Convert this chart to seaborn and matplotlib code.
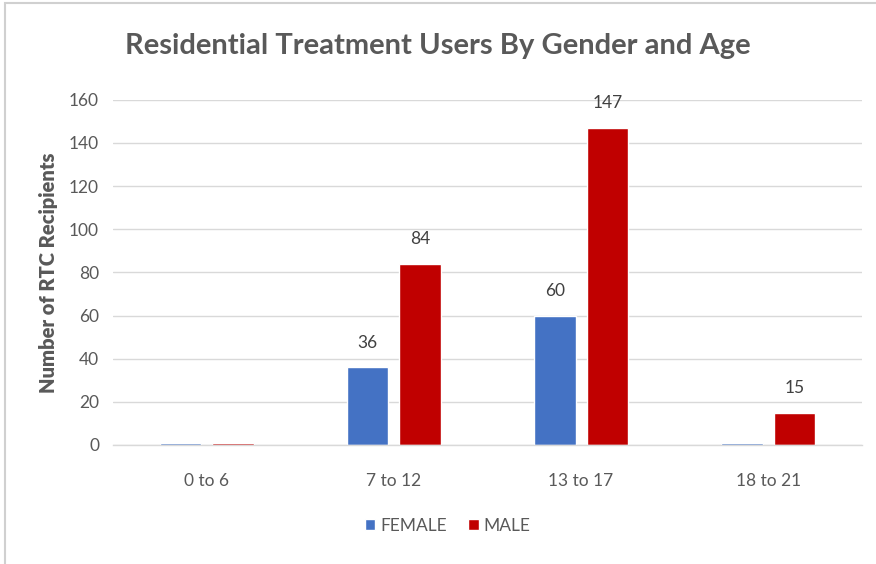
import pandas as pd
import matplotlib.pyplot as plt
import seaborn as sns
from matplotlib.patches import Rectangle

# Values
age_groups = ['0 to 6', '7 to 12', '13 to 17', '18 to 21']
female = [1, 36, 60, 1]
male = [1, 84, 147, 15]
genders = ['FEMALE', 'MALE']
colors = {'FEMALE': '#4472C4', 'MALE': '#C00000'}

df = pd.DataFrame({
    'Age': age_groups * 2,
    'Gender': ['FEMALE'] * len(age_groups) + ['MALE'] * len(age_groups),
    'Count': female + male,
})

sns.set_theme(style='white')
plt.rcParams['font.family'] = ['Lato', 'DejaVu Sans']
text_gray = '#595959'

fig = plt.figure(figsize=(8.76, 5.64), dpi=100)
ax = fig.add_axes([0.129, 0.211, 0.855, 0.612])

sns.barplot(data=df, x='Age', y='Count', hue='Gender', hue_order=genders,
            palette=colors, saturation=1, width=0.56, gap=0.21, ax=ax, legend=True)

# data labels, only for the visible counts
for cont in ax.containers:
    labels = [f'{int(v)}' if v > 1 else '' for v in cont.datavalues]
    ax.bar_label(cont, labels=labels, padding=12, fontsize=12.5, color='#404040')

ax.set_ylim(0, 160)
ax.set_yticks(range(0, 161, 20))
ax.yaxis.grid(True, color='#D9D9D9', linewidth=1)
ax.set_axisbelow(True)
for s in ['top', 'right', 'left']:
    ax.spines[s].set_visible(False)
ax.spines['bottom'].set_color('#D9D9D9')
ax.spines['bottom'].set_linewidth(1)
ax.tick_params(axis='both', length=0, labelsize=12.5, labelcolor=text_gray, pad=10)
ax.tick_params(axis='x', pad=20)
ax.set_xlabel('')
ax.set_ylabel('Number of RTC Recipients', fontsize=14.5, fontweight='heavy',
              color=text_gray, labelpad=8)

fig.text(0.5, 0.918, 'Residential Treatment Users By Gender and Age',
         ha='center', va='center', fontsize=21, fontweight='bold', color=text_gray)

ax.legend(loc='upper center', bbox_to_anchor=(0.447, -0.165), ncol=2, frameon=False,
          fontsize=12.5, labelcolor=text_gray, handlelength=0.6, handleheight=0.6,
          handletextpad=0.3, columnspacing=1.2)

# chart-area border (left and top edges visible in the screenshot)
fig.patches.append(Rectangle((0.006, -0.01), 1.1, 1.005, transform=fig.transFigure,
                             fill=False, edgecolor='#D0D0D0', linewidth=1.5))

fig.savefig('out.png', dpi=100, facecolor='white')
